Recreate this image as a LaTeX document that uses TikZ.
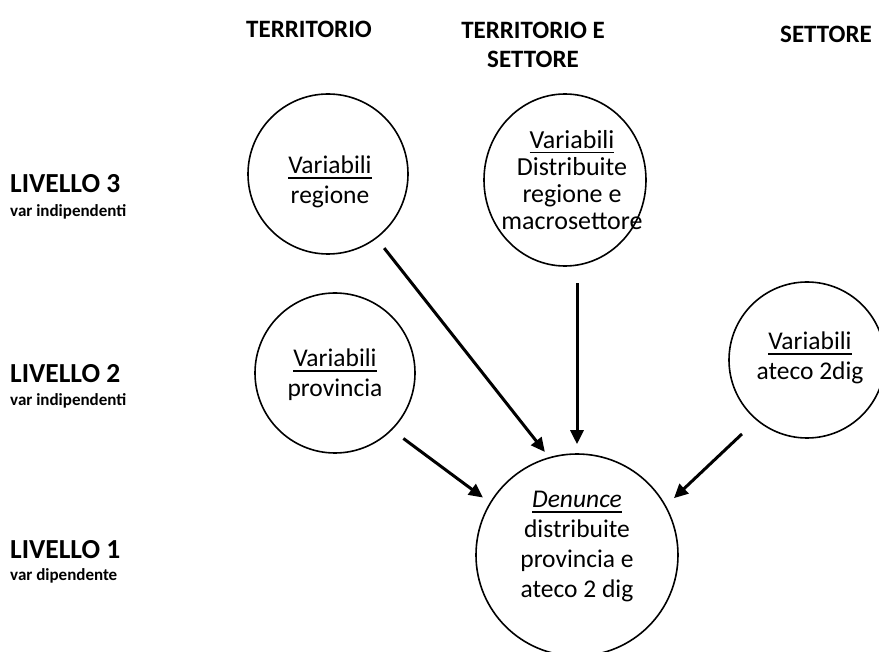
\documentclass[tikz,border=0pt]{standalone}
\usepackage{fontspec}
\setmainfont{Carlito}
\usetikzlibrary{shapes.geometric,arrows.meta}
\newcommand\myul[1]{\setbox0\hbox{#1}\rlap{\rule[-5pt]{\wd0}{1.6pt}}\box0}
\tikzset{
  circ/.style={draw, circle, line width=1.6pt, inner sep=0pt},
  txt/.style={align=center, inner sep=0pt, font=\fontsize{25.5}{30}\selectfont},
  hdr/.style={align=center, inner sep=0pt, font=\fontsize{25}{29}\bfseries\selectfont},
  lvl/.style={anchor=base west, inner sep=0pt, font=\fontsize{27.5}{30}\bfseries\selectfont},
  sublbl/.style={anchor=base west, inner sep=0pt, font=\fontsize{17}{19}\bfseries\selectfont},
  arr/.style={-{Triangle[length=14pt,width=13pt]}, line width=3pt}
}
\begin{document}
\begin{tikzpicture}[x=1pt,y=-1pt]
\useasboundingbox (0,0) rectangle (879,652);
% headers
\node[hdr, anchor=base] (h1) at (309,38) {TERRITORIO};
\node[hdr] (h2) at (533,45) {TERRITORIO E\\SETTORE};
\node[hdr, anchor=base] (h3) at (826,43) {SETTORE};
% levels
\node[lvl] (l3) at (10,193) {LIVELLO 3};
\node[sublbl] (s3) at (10,217) {var indipendenti};
\node[lvl] (l2) at (10,383) {LIVELLO 2};
\node[sublbl] (s2) at (10,406) {var indipendenti};
\node[lvl] (l1) at (10,558) {LIVELLO 1};
\node[sublbl] (s1) at (10,580) {var dipendente};
% circles
\node[circ, minimum size=160pt] (reg) at (328,174) {};
\node[draw, ellipse, line width=1.6pt, inner sep=0pt, minimum width=162pt, minimum height=172pt] (tds) at (565,180) {};
\node[circ, minimum size=160pt] (prov) at (335,373) {};
\node[circ, minimum size=156pt] (ateco) at (807,360) {};
\node[circ, minimum size=202pt] (den) at (577,555) {};
% texts
\node[txt] (treg) at (330,182) {\myul{Variabili}\\regione};
\node[txt, font=\fontsize{26}{27}\selectfont] (ttds) at (572,180) {\myul{Variabili}\\Distribuite\\regione e\\macrosettore};
\node[txt] (tprov) at (335,375) {\myul{Variabili}\\provincia};
\node[txt] (tateco) at (810,358) {\myul{Variabili}\\ateco 2dig};
\node[txt] (tden) at (577,547) {\myul{\textit{Denunce}}\\distribuite\\provincia e\\ateco 2 dig};
% arrows
\draw[arr, shorten <=12.2pt, shorten >=6.6pt] (reg.-53.6) -- (den.106.6);
\draw[arr, shorten <=16.5pt, shorten >=9pt] (tds.south -| den.center) -- (den.north);
\draw[arr, shorten <=14pt, shorten >=8.4pt] (prov.-45) -- (den.149);
\draw[arr, shorten <=19.8pt, shorten >=10.9pt] (ateco.-130.4) -- (den.29.3);
\end{tikzpicture}
\end{document}
